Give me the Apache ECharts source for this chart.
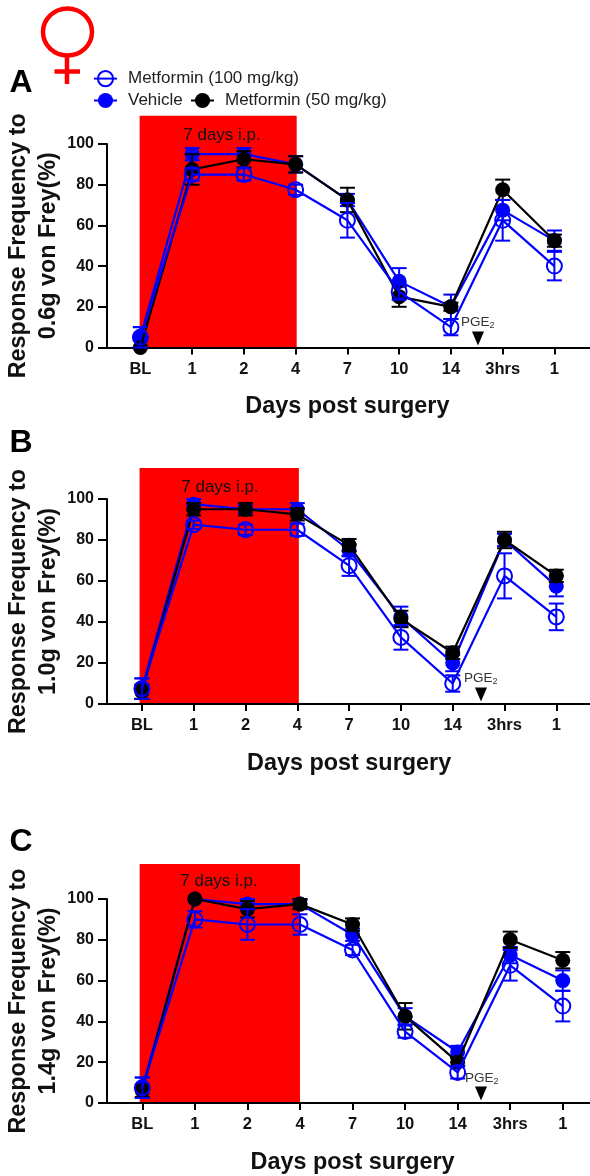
<!DOCTYPE html>
<html><head><meta charset="utf-8">
<style>html,body{margin:0;padding:0;background:#fff}#c{width:590px;height:1176px}</style>
<script src="https://cdn.jsdelivr.net/npm/echarts@6/dist/echarts.min.js"></script>
</head><body><div id="c"></div>
<script>
const categories = ['BL','1','2','4','7','10','14','3hrs','1'];
const yTicks = [0,20,40,60,80,100];
const NAME100 = 'Metformin (100 mg/kg)', NAMEV = 'Vehicle', NAME50 = 'Metformin (50 mg/kg)';

const aVehicle = [5,95,95,90,72.5,32.5,20,67.5,52.5];
const aVehicleErr = [5,3,3,4,3,6.5,6,5,5];
const a50 = [0,87.5,92.5,90,72.5,25,20,77.5,52.5];
const a50Err = [0,7.5,4,4,6,5,2,5,3];
const a100 = [5,85,85,77.5,62.5,27.5,10,62.5,40];
const a100Err = [5,3,3,2.5,8.5,4,4,10,7];

const bVehicle = [7.5,97.5,95,95,75,42.5,20,80,57.5];
const bVehicleErr = [5,2.5,2,3,3,5,4,3,5];
const b50 = [6,95,95,92.5,77.5,41.5,25,80,62.5];
const b50Err = [3.5,3,3,3,3,4,3,4,3];
const b100 = [7.5,87.5,85,85,67.5,32.5,10,62.5,42.5];
const b100Err = [5,2,2.5,3,5,6,4,11,6.5];

const cVehicle = [7.5,100,97.5,97.5,82.5,42.5,25,72.5,60];
const cVehicleErr = [5,0,2.5,2,3,4,3,4,5];
const c50 = [6,100,95,97.5,87.5,42.5,20,80,70];
const c50Err = [3,0,4,2.5,3,6.5,2,4,4];
const c100 = [7.5,90,87.5,87.5,75,35,15,67.5,47.5];
const c100Err = [5,4,7.5,5,2.5,3,3,7.5,7.5];

const panels = [
  {letter:'A', letterTop:67, blTitle:'0.6g', bl:140.4, step:51.75, y100:144, y0:347.5,
   v:aVehicle, ve:aVehicleErr, m50:a50, e50:a50Err, m100:a100, e100:a100Err,
   red:[-0.015,3.02,113.9], ipX:222, ipY:135, pgeX:461, pgeY:322, triX:478, triY:338.5},
  {letter:'B', letterTop:427, blTitle:'1.0g', bl:141.9, step:51.8, y100:499, y0:704,
   v:bVehicle, ve:bVehicleErr, m50:b50, e50:b50Err, m100:b100, e100:b100Err,
   red:[-0.045,3.03,115.1], ipX:220, ipY:487, pgeX:464, pgeY:678, triX:481, triY:694.5},
  {letter:'C', letterTop:826, blTitle:'1.4g', bl:142.3, step:52.56, y100:899, y0:1103,
   v:cVehicle, ve:cVehicleErr, m50:c50, e50:c50Err, m100:c100, e100:c100Err,
   red:[-0.05,3.0,117.2], ipX:219, ipY:881, pgeX:465, pgeY:1078, triX:481, triY:1093.5}
];

const FONT = '"Liberation Sans", Arial, sans-serif';
const BLUE = '#0000ff', BLACK = '#000';
const grid=[], xAxis=[], yAxis=[], series=[], graphic=[];

function errSeries(vals, errs, color, gi, z){
  return {type:'custom', xAxisIndex:gi, yAxisIndex:gi, z, silent:true, clip:false,
    data: vals.map((v,i)=>[i,v,errs[i]]),
    encode:{x:0,y:1},
    renderItem(params, api){
      const x=api.value(0), v=api.value(1), e=api.value(2);
      const hi=api.coord([x,v+e]), lo=api.coord([x,v-e]), cap=7.5;
      const st={stroke:color,lineWidth:2,fill:null};
      return {type:'group',children:[
        {type:'line',shape:{x1:hi[0],y1:hi[1],x2:lo[0],y2:lo[1]},style:st},
        {type:'line',shape:{x1:hi[0]-cap,y1:hi[1],x2:hi[0]+cap,y2:hi[1]},style:st},
        {type:'line',shape:{x1:lo[0]-cap,y1:lo[1],x2:lo[0]+cap,y2:lo[1]},style:st}
      ]};
    }};
}
function lineSeries(name, vals, color, gi, z, hollow){
  return {type:'line', name, xAxisIndex:gi, yAxisIndex:gi, z, clip:false, silent:true,
    animation:false, symbol:'circle', symbolSize:15,
    data: vals.map((v,i)=>[i,v]),
    lineStyle:{color,width:2.2},
    itemStyle: hollow ? {color:'transparent',borderColor:color,borderWidth:2} : {color,borderColor:color,borderWidth:0}};
}

panels.forEach((p,k)=>{
  const h=p.y0-p.y100, mainLeft=p.bl-p.step;
  const gm=k*2, gd=k*2+1;
  grid.push({left:mainLeft, top:p.y100, width:p.step*10, height:h, outerBoundsMode:'none'});
  grid.push({left:107, top:p.y100, width:483, height:h, outerBoundsMode:'none'});
  xAxis.push({gridIndex:gm, type:'value', min:-1, max:9, interval:1,
    name:'Days post surgery', nameLocation:'middle', nameGap:48, nameMoveOverlap:false,
    nameTextStyle:{fontFamily:FONT,fontWeight:'bold',fontSize:23.4,color:'#111'},
    axisLine:{show:false}, splitLine:{show:false},
    axisTick:{show:true, length:7, lineStyle:{color:'#000',width:2}, customValues:categories.map((c,i)=>i)},
    axisLabel:{show:true, margin:13, fontFamily:FONT, fontWeight:'bold', fontSize:16.5, color:'#111',
      customValues:categories.map((c,i)=>i), formatter:v=>categories[v]}});
  xAxis.push({gridIndex:gd, type:'value', min:0, max:1, axisTick:{show:false}, axisLabel:{show:false},
    splitLine:{show:false}, axisLine:{show:true,onZero:false,lineStyle:{color:'#000',width:2}}});
  yAxis.push({gridIndex:gm, type:'value', min:0, max:100, show:false});
  yAxis.push({gridIndex:gd, type:'value', min:0, max:100, interval:20,
    name:'Response Frequency to\n'+p.blTitle+' von Frey(%)', nameLocation:'middle', nameGap:43, nameMoveOverlap:false,
    nameTextStyle:{fontFamily:FONT,fontWeight:'bold',fontSize:23.4,color:'#111',lineHeight:30},
    splitLine:{show:false},
    axisLine:{show:true,lineStyle:{color:'#000',width:2}},
    axisTick:{show:true,length:9,lineStyle:{color:'#000',width:2}},
    axisLabel:{margin:13,fontFamily:FONT,fontWeight:'bold',fontSize:16,color:'#111'}});
  series.push({type:'custom', xAxisIndex:gm, yAxisIndex:gm, z:-1, silent:true, clip:false,
    data:[p.red], encode:{x:0,y:2},
    renderItem(params, api){
      const a=api.coord([api.value(0),0]), b=api.coord([api.value(1),api.value(2)]);
      return {type:'rect',shape:{x:a[0],y:b[1],width:b[0]-a[0],height:a[1]-b[1]},style:{fill:'#ff0000'}};
    }});
  series.push(errSeries(p.v,p.ve,BLUE,gm,3));
  series.push(lineSeries(NAMEV,p.v,BLUE,gm,4,false));
  series.push(errSeries(p.m50,p.e50,BLACK,gm,5));
  series.push(lineSeries(NAME50,p.m50,BLACK,gm,6,false));
  series.push(errSeries(p.m100,p.e100,BLUE,gm,7));
  series.push(lineSeries(NAME100,p.m100,BLUE,gm,8,true));
  graphic.push({type:'text',left:9.5,top:p.letterTop,z:20,style:{text:p.letter,fontFamily:FONT,fontWeight:'bold',fontSize:32,fill:'#000'}});
  graphic.push({type:'text',x:p.ipX,y:p.ipY,z:20,style:{text:'7 days i.p.',fontFamily:FONT,fontSize:17,fill:'#111',align:'center',verticalAlign:'middle'}});
  graphic.push({type:'text',x:p.pgeX,y:p.pgeY,z:20,style:{
    rich:{a:{fontFamily:FONT,fontSize:13.5,fill:'#333',verticalAlign:'middle'},b:{fontFamily:FONT,fontSize:9,fill:'#333',padding:[7,0,0,0]}},
    text:'{a|PGE}{b|2}',verticalAlign:'middle'}});
  graphic.push({type:'polygon',z:20,shape:{points:[[p.triX-6,p.triY-7],[p.triX+6,p.triY-7],[p.triX,p.triY+7]]},style:{fill:'#000'}});
});

graphic.push({type:'ellipse',z:20,shape:{cx:67.5,cy:32,rx:24.5,ry:23.5},style:{fill:null,stroke:'#ff0000',lineWidth:4.5}});
graphic.push({type:'line',z:20,shape:{x1:67,y1:56,x2:67,y2:84},style:{stroke:'#ff0000',lineWidth:4.5}});
graphic.push({type:'line',z:20,shape:{x1:54.5,y1:71.5,x2:80,y2:71.5},style:{stroke:'#ff0000',lineWidth:4.5}});

const leg=(name,left,top)=>({show:true,data:[name],left,top,orient:'horizontal',selectedMode:false,
  itemWidth:23,itemHeight:19,itemGap:0,padding:0,
  textStyle:{fontFamily:FONT,fontSize:17,color:'#222',padding:[0,0,0,6]}});

const chart=echarts.init(document.getElementById('c'),null,{renderer:'canvas'});
chart.setOption({animation:false,backgroundColor:'#fff',
  grid,xAxis,yAxis,series,graphic,tooltip:{show:false},
  legend:[leg(NAME100,93,70),leg(NAMEV,93,92),leg(NAME50,190,92)]});
</script></body></html>
